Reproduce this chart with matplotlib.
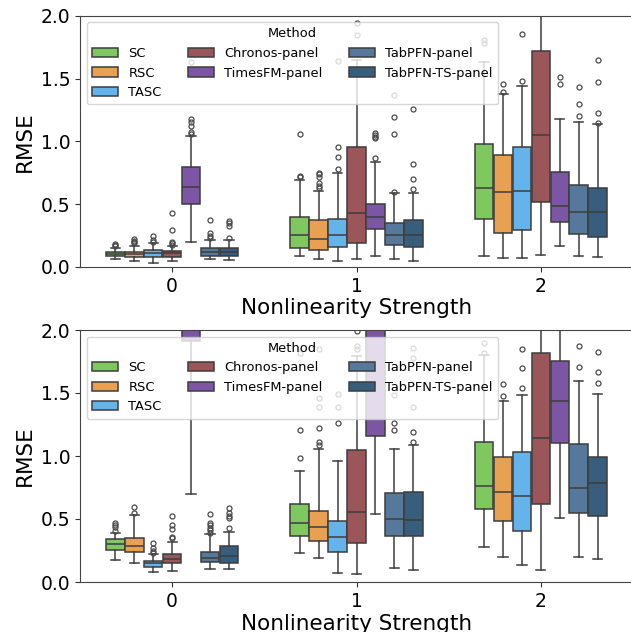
import matplotlib
matplotlib.use("Agg")
import matplotlib.pyplot as plt
from matplotlib.patches import Patch

methods = ["SC", "RSC", "TASC", "Chronos-panel", "TimesFM-panel",
           "TabPFN-panel", "TabPFN-TS-panel"]
colors = ["#7fc860", "#e8a052", "#64b4eb", "#9a5658", "#7d55a5",
          "#55789b", "#375f7d"]
groups = [0, 1, 2]
xlabel = "Nonlinearity Strength"
ylabel = "RMSE"

# ---- top panel: per method, per group (0,1,2) ----
top_wlo = [[.060, .090, .090], [.048, .066, .074], [.035, .050, .074],
           [.048, .061, .095], [.200, .088, .167], [.061, .066, .090],
           [.056, .048, .080]]
top_q1 = [[.085, .149, .379], [.082, .135, .268], [.082, .162, .294],
          [.077, .188, .517], [.500, .300, .358], [.088, .175, .260],
          [.088, .162, .236]]
top_med = [[.100, .252, .626], [.100, .220, .594], [.109, .252, .608],
           [.109, .432, 1.053], [.634, .400, .483], [.122, .257, .435],
           [.120, .255, .435]]
top_q3 = [[.120, .398, .979], [.120, .374, .889], [.135, .379, .958],
          [.130, .958, 1.722], [.794, .499, .754], [.149, .353, .653],
          [.149, .374, .632]]
top_whi = [[.155, .692, 1.63], [.167, .607, 1.38], [.190, .745, 1.44],
           [.167, 1.65, 2.40], [1.043, .838, 1.178], [.215, .590, 1.157],
           [.215, .590, 1.138]]
top_fliers = [
    [[.165, .175, .18], [.719, .727, 1.056], [1.78, 1.81]],
    [[.19, .20, .21, .22], [.626, .647, .666, .72, .74, .75], [1.395, 1.457]],
    [[.20, .215, .25], [.783, .873, .958, 1.64], [1.48, 1.855]],
    [[.175, .188, .20, .294, .427], [1.85, 1.94], []],
    [[1.06, 1.077, 1.12, 1.157, 1.18, 1.634], [.865, 1.024, 1.037, 1.05, 1.064], [1.457, 1.515]],
    [[.228, .247, .268, .374], [.60, 1.056, 1.19, 1.37], [1.205, 1.30, 1.436]],
    [[.231, .326, .348, .369], [.618, .698, .82, 1.26], [1.15, 1.223, 1.473, 1.648]],
]

# ---- bottom panel ----
bot_wlo = [[.175, .228, .280], [.148, .188, .196], [.077, .069, .135],
           [.087, .063, .095], [.700, .540, .510], [.103, .108, .200],
           [.103, .095, .180]]
bot_q1 = [[.254, .368, .577], [.235, .325, .487], [.116, .235, .405],
          [.148, .307, .619], [1.91, 1.16, 1.106], [.156, .368, .550],
          [.148, .368, .526]]
bot_med = [[.299, .466, .765], [.288, .434, .714], [.148, .360, .685],
           [.180, .558, 1.14], [2.50, 2.20, 1.439], [.188, .497, .743],
           [.209, .495, .788]]
bot_q3 = [[.341, .619, 1.114], [.347, .566, .995], [.169, .487, 1.034],
          [.222, 1.048, 1.815], [3.20, 2.90, 1.754], [.235, .704, 1.093],
          [.288, .712, .995]]
bot_whi = [[.386, .884, 1.80], [.532, 1.053, 1.437], [.220, .963, 1.484],
           [.320, 1.79, 2.50], [4.00, 4.00, 2.40], [.378, 1.056, 1.595],
           [.400, 1.087, 1.495]]
bot_fliers = [
    [[.405, .44, .452, .466], [.981, 1.206, 1.815], [1.82, 1.90]],
    [[.545, .598], [1.087, 1.114, 1.225, 1.39, 1.46, 1.85], [1.476, 1.57]],
    [[.228, .246, .267, .312], [1.26, 1.39, 1.49], [1.54, 1.70, 1.85]],
    [[.347, .36, .418, .452, .524], [1.85, 1.87, 1.99], []],
    [[], [], []],
    [[.386, .413, .43, .45, .466, .54], [1.206, 1.26, 1.484], [1.704, 1.876]],
    [[.426, .505, .524, .545, .59], [1.114, 1.188, 1.39, 1.78, 1.86], [1.577, 1.669, 1.828]],
]

LINE = "#3d3d3d"
TOTAL_W = 0.72
n = len(methods)
bw = TOTAL_W / n

fig = plt.figure(figsize=(6.31, 6.32), dpi=100)
ax_top = fig.add_axes([80 / 631, 1 - 267 / 632, 553 / 631, 251.3 / 632])
ax_bot = fig.add_axes([80 / 631, 1 - 582 / 632, 553 / 631, 252 / 632])


def draw(ax, wlo, q1, med, q3, whi, fliers):
    for i in range(n):
        stats = []
        pos = []
        for g in range(len(groups)):
            stats.append(dict(med=med[i][g], q1=q1[i][g], q3=q3[i][g],
                              whislo=wlo[i][g], whishi=whi[i][g],
                              fliers=fliers[i][g]))
            pos.append(groups[g] - TOTAL_W / 2 + (i + 0.5) * bw)
        ax.bxp(stats, positions=pos, widths=bw * 0.98, patch_artist=True,
               manage_ticks=False,
               boxprops=dict(facecolor=colors[i], edgecolor=LINE, linewidth=1.1),
               medianprops=dict(color=LINE, linewidth=1.1),
               whiskerprops=dict(color=LINE, linewidth=1.1),
               capprops=dict(color=LINE, linewidth=1.1),
               flierprops=dict(marker="o", markersize=3.6, markerfacecolor="none",
                               markeredgecolor="#4a4a4a", markeredgewidth=0.9))
    ax.set_xlim(-0.5, 2.5)
    ax.set_ylim(0, 2.0)
    ax.set_xticks(groups)
    ax.set_xticklabels([str(g) for g in groups])
    ax.set_yticks([0, 0.5, 1.0, 1.5, 2.0])
    ax.set_yticklabels(["0.0", "0.5", "1.0", "1.5", "2.0"])
    ax.tick_params(labelsize=13.5, color="#333333")
    for s in ax.spines.values():
        s.set_color("#444444")
    ax.set_xlabel(xlabel, fontsize=15.5, labelpad=2)
    ax.set_ylabel(ylabel, fontsize=15.5)
    handles = [Patch(facecolor=c, edgecolor=LINE, linewidth=1.1, label=m)
               for m, c in zip(methods, colors)]
    leg = ax.legend(handles=handles, title="Method", ncol=3, loc="upper left",
                    fontsize=9.4, title_fontsize=9.4, framealpha=0.8)
    leg.set_zorder(10)


draw(ax_top, top_wlo, top_q1, top_med, top_q3, top_whi, top_fliers)
draw(ax_bot, bot_wlo, bot_q1, bot_med, bot_q3, bot_whi, bot_fliers)

fig.savefig("out.png", dpi=100)
